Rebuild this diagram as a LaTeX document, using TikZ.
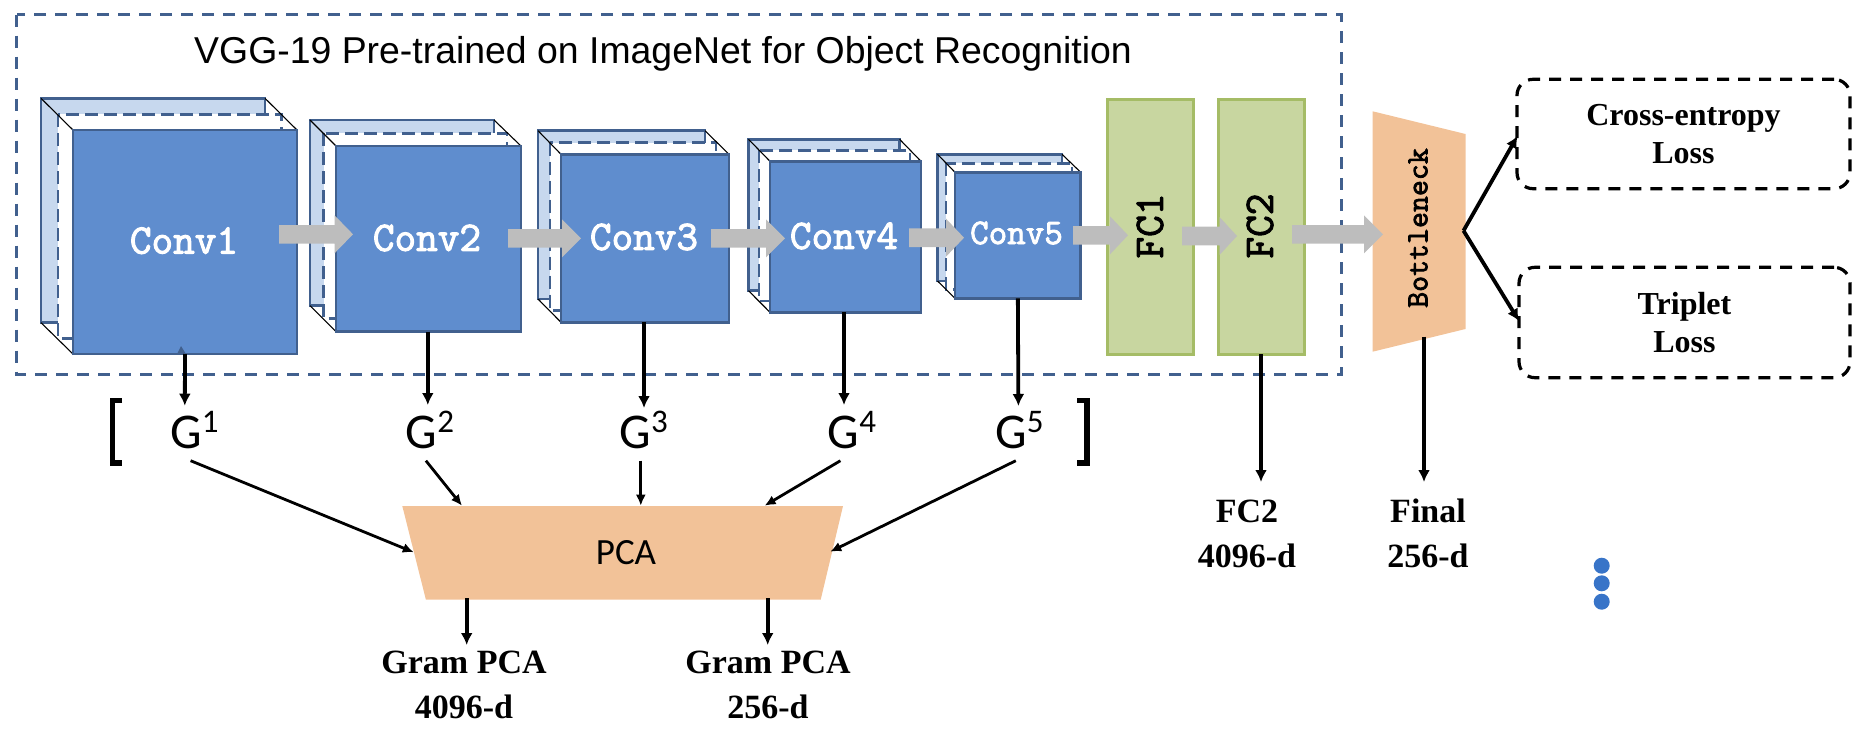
\documentclass[tikz,border=0pt]{standalone}
\usepackage{fontspec}
\usetikzlibrary{arrows.meta}
\setmainfont{Liberation Serif}
\setsansfont{Liberation Sans}
\newfontfamily\carl{Carlito}
\newfontfamily\monob[FakeBold=2.4]{Latin Modern Mono}
\newcommand{\fsz}[1]{\fontsize{#1}{#1}\selectfont}
\newcommand{\fszb}[2]{\fontsize{#1}{#2}\selectfont}
\newcommand{\gsup}[1]{G\raisebox{16pt}{\fsz{33}#1}}
\definecolor{edgeblue}{HTML}{41608E}
\definecolor{backblue}{HTML}{C7D8EE}
\definecolor{frontblue}{HTML}{5F8DCE}
\definecolor{fcgreen}{HTML}{C8D6A0}
\definecolor{fcedge}{HTML}{A5BC66}
\definecolor{peach}{HTML}{F2C298}
\definecolor{arrowgray}{HTML}{BDBDBD}
\definecolor{dotblue}{HTML}{3874C8}
\tikzset{
  frame/.style={draw=edgeblue,line width=2.8pt,dash pattern=on 12pt off 9pt},
  backface/.style={draw=edgeblue,line width=2.8pt,fill=backblue},
  midface/.style={draw=edgeblue,line width=2.8pt,dash pattern=on 13pt off 6pt,fill=white},
  diag/.style={draw=black,line width=1.1pt},
  frontface/.style={draw=edgeblue,line width=2.8pt,fill=frontblue,inner sep=0pt,outer sep=0pt,anchor=north west},
  convtext/.style={text=white,font=\monob\fsz{42},inner sep=0pt},
  fcbox/.style={draw=fcedge,line width=3pt,fill=fcgreen,inner sep=0pt,outer sep=0pt,minimum width=86pt,minimum height=255pt},
  fctext/.style={font=\monob\fsz{42},rotate=90,inner sep=0pt},
  flow/.style={fill=arrowgray,draw=none},
  thick arrow/.style={draw=black,line width=3.8pt,-{Latex[length=12pt,width=12pt]}},
  thin arrow/.style={draw=black,line width=2.8pt,-{Latex[length=11pt,width=10pt]}},
  losstext/.style={draw=black,line width=3.2pt,dash pattern=on 12pt off 9pt,rounded corners=16pt,align=center,inner sep=0pt,font=\bfseries\fszb{32}{38.7}},
  gtext/.style={font=\carl\fsz{50},anchor=base,inner sep=0pt},
  dimtext/.style={font=\bfseries\fszb{34}{45},align=center,inner sep=0pt},
  blackbar/.style={draw=black,line width=5.5pt}
}
\newcommand{\cubeback}[9]{%
  \draw[backface] (#2,#3) rectangle (#4,#5);
  \draw[midface] (#6,#7) rectangle (#8,#9);
  \coordinate (#1bk) at (#2,#3);
  \coordinate (#1bktr) at (#4,#3);
  \coordinate (#1bkbl) at (#2,#5);
}
\newcommand{\cubefront}[5]{%
  \pgfmathsetlengthmacro{\fw}{#4-#2}\pgfmathsetlengthmacro{\fh}{#5-#3}%
  \draw[diag] (#1bk) -- (#2,#3);
  \draw[diag] (#1bktr) -- (#4,#3);
  \draw[diag] (#1bkbl) -- (#2,#5);
  \node[frontface,minimum width=\fw,minimum height=\fh] (#1) at (#2,#3) {};
}
\newcommand{\flowarrow}[4]{% x0, headbase, tip, y
  \fill[flow] (#1,#4-9.3) -- (#2,#4-9.3) -- (#2,#4-19) -- (#3,#4) -- (#2,#4+19) -- (#2,#4+9.3) -- (#1,#4+9.3) -- cycle;
}
\begin{document}
\begin{tikzpicture}[x=1pt,y=-1pt]
\useasboundingbox (0,0) rectangle (1868,728);
\draw[frame] (16.6,14.7) rectangle (1341.3,374.3);
\node[font=\sffamily\fsz{37.4},anchor=base,inner sep=0pt] (title) at (663,63) {VGG-19 Pre-trained on ImageNet for Object Recognition};

\cubeback{c1}{41}{98.3}{265}{322.7}{58}{114.3}{281.5}{338.3}
\cubefront{c1}{73}{130}{297}{354}
\cubeback{c2}{310}{120}{494}{305.7}{323.5}{133.3}{507}{318.3}
\cubefront{c2}{336}{146}{521}{331.7}
\cubeback{c3}{538}{130.7}{705}{299}{550}{142.7}{716}{310.7}
\cubefront{c3}{561}{154.3}{729}{322.3}
\cubeback{c4}{748.5}{139.3}{899.6}{290.7}{759}{150.3}{910}{301}
\cubefront{c4}{770}{161.3}{921}{312.3}
\cubeback{c5}{937.5}{154.3}{1062}{281}{946}{163.3}{1072}{289.3}
\cubefront{c5}{955}{172.3}{1080.7}{298.3}

\node[convtext] (t1) at (184,240.7) {Conv1};
\node[convtext] (t2) at (427,238) {Conv2};
\node[convtext] (t3) at (644,237) {Conv3};
\node[convtext] (t4) at (844,236) {Conv4};
\node[convtext,font=\monob\fsz{36}] (t5) at (1016.5,233) {Conv5};

\node[fcbox] (fc1) at (1150,226.7) {};
\node[fcbox] (fc2) at (1261,226.7) {};
\node[fctext] (fc1t) at (1150,226) {FC1};
\node[fctext] (fc2t) at (1260,226) {FC2};

\fill[peach] (1372.6,111.3) -- (1465.5,134) -- (1465.5,329) -- (1372.6,351.7) -- cycle;
\coordinate (bn) at (1463.5,230.7);
\coordinate (bnout) at (1424,336.7);
\node[font=\monob\fsz{31},rotate=90,inner sep=0pt] (bnt) at (1418,228) {Bottleneck};

\flowarrow{279}{334.5}{353}{234.3}
\flowarrow{508}{562}{581}{238.3}
\flowarrow{711}{766}{785}{238.3}
\flowarrow{909}{946}{964}{237.7}
\flowarrow{1073}{1110}{1128}{235.3}
\flowarrow{1182}{1219.5}{1237}{236}
\flowarrow{1292}{1364}{1383}{234.3}

\node[losstext,minimum width=333pt,minimum height=109.4pt] (ce) at (1683.5,134) {Cross-entropy\\Loss};
\node[losstext,minimum width=331pt,minimum height=110.4pt] (tr) at (1684.5,322.5) {Triplet\\Loss};
\draw[thick arrow] (bn) -- (1517.5,136);
\draw[thick arrow] (bn) -- (1519,321);

\node[gtext] (g1) at (194.5,448) {\gsup{1}};
\node[gtext] (g2) at (430,448) {\gsup{2}};
\node[gtext] (g3) at (643.8,448) {\gsup{3}};
\node[gtext] (g4) at (852,448) {\gsup{4}};
\node[gtext] (g5) at (1019.5,448) {\gsup{5}};

\draw[blackbar] (122,400.5) -- (112.5,400.5) -- (112.5,463) -- (122,463);
\draw[blackbar] (1077,400.5) -- (1087,400.5) -- (1087,463) -- (1077,463);

\coordinate (g1i) at (184.8,405.7);
\coordinate (g2i) at (427.8,405);
\coordinate (g3i) at (644,408);
\coordinate (g4i) at (844,405);
\coordinate (g5i) at (1018.4,406);
\fill[edgeblue] (181,346) -- (177,354) -- (186,354) -- cycle;
\draw[thick arrow] (c1.south) -- (g1i);
\draw[thick arrow] (c2.south -| g2i) -- (g2i);
\draw[thick arrow] (c3.south -| g3i) -- (g3i);
\draw[thick arrow] (c4.south -| g4i) -- (g4i);
\draw[thick arrow] (c5.south) -- (g5i);

\fill[peach] (402.3,506) coordinate (pa) -- (843,506) coordinate (pb) -- (820.7,599.7) coordinate (pc) -- (425.9,599.7) coordinate (pd) -- cycle;
\node[font=\carl\fsz{37},inner sep=0pt] (pca) at (626,553) {PCA};

\coordinate (g1o) at (190.6,460.7);
\coordinate (g2o) at (425.9,460.7);
\coordinate (g3o) at (640.8,460.7);
\coordinate (g4o) at (840.4,460.7);
\coordinate (g5o) at (1015.8,460.7);
\draw[thin arrow] (g1o) -- (413.8,552.3);
\draw[thin arrow] (g2o) -- (462,505.7);
\draw[thin arrow] (g3o) -- (640.8,505.7);
\draw[thin arrow] (g4o) -- (764.6,505.7);
\draw[thin arrow] (g5o) -- (830.2,551.7);

\coordinate (po1) at (466.7,598);
\coordinate (po2) at (767.7,598);
\draw[thick arrow] (po1) -- (466.7,645);
\draw[thick arrow] (po2) -- (767.7,645);
\node[dimtext] (gp1) at (464,685) {Gram PCA\\4096-d};
\node[dimtext] (gp2) at (768,685) {Gram PCA\\256-d};

\coordinate (fcd) at (1261,482);
\coordinate (bnd) at (1424,482);
\draw[thick arrow] (fc2.south) -- (fcd);
\draw[thick arrow] (bnout) -- (bnd);
\node[dimtext] (lab1) at (1247,533.5) {FC2\\4096-d};
\node[dimtext] (lab2) at (1428,533.5) {Final\\256-d};

\node[circle,fill=dotblue,minimum size=16pt,inner sep=0pt] (d1) at (1601.7,565.7) {};
\node[circle,fill=dotblue,minimum size=16pt,inner sep=0pt] (d2) at (1601.7,583.3) {};
\node[circle,fill=dotblue,minimum size=16pt,inner sep=0pt] (d3) at (1601.7,601.7) {};
\end{tikzpicture}
\end{document}
